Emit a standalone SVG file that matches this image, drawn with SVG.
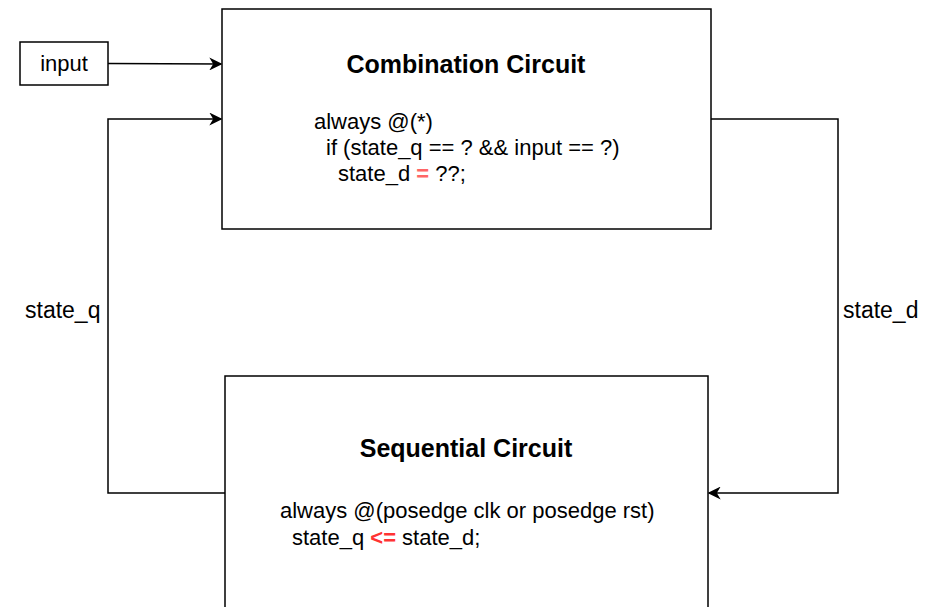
<svg xmlns="http://www.w3.org/2000/svg" width="935" height="607" viewBox="0 0 935 607">
<style>
text{font-family:"Liberation Sans",Arial,sans-serif;fill:#000}
.box{fill:#fff;stroke:#000;stroke-width:1.5}
.t{font-size:25px;font-weight:bold;text-anchor:middle}
.c{font-size:22px}
.lbl{font-size:23px}
.conn{fill:none;stroke:#000;stroke-width:1.5}
</style>
<defs>
<marker id="arr" viewBox="0 0 10 10" refX="9" refY="5" markerWidth="13" markerHeight="13" markerUnits="userSpaceOnUse" orient="auto">
<path d="M0,0 L10,5 L0,10 L3,5 Z" fill="#000"/>
</marker>
</defs>
<rect width="935" height="607" fill="#fff"/>
<g id="connectors">
<path class="conn" d="M108,63.5 L221,64" marker-end="url(#arr)"/>
<path class="conn" d="M225,493 L108,493 L108,119 L221,119" marker-end="url(#arr)"/>
<path class="conn" d="M711,119 L838,119 L838,493 L709,493" marker-end="url(#arr)"/>
</g>
<g id="input">
<rect class="box" x="20" y="42" width="88" height="43"/>
<text x="64" y="71" class="c" text-anchor="middle">input</text>
</g>
<g id="combination">
<rect class="box" x="222" y="9" width="489" height="220"/>
<text x="466" y="73" class="t">Combination Circuit</text>
<text x="314" y="129" class="c">always @(*)</text>
<text x="326" y="155" class="c">if (state_q == ? &amp;&amp; input == ?)</text>
<text x="338" y="181" class="c">state_d <tspan fill="#FF6666" font-weight="bold">=</tspan> ??;</text>
</g>
<g id="sequential">
<rect class="box" x="225" y="376" width="483" height="240"/>
<text x="466" y="457" class="t">Sequential Circuit</text>
<text x="280" y="518" class="c">always @(posedge clk or posedge rst)</text>
<text x="292" y="545" class="c">state_q <tspan fill="#FF3333" font-weight="bold">&lt;=</tspan> state_d;</text>
</g>
<g id="labels">
<text x="25" y="318" class="lbl">state_q</text>
<text x="843" y="318" class="lbl">state_d</text>
</g>
</svg>
